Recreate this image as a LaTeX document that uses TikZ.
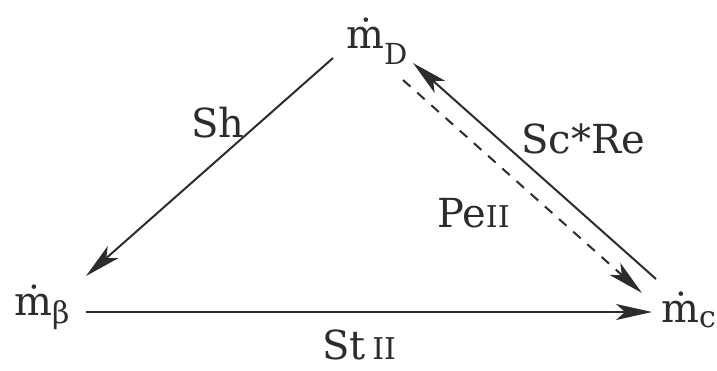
\documentclass[tikz,border=0pt]{standalone}
\usepackage{fontspec}
\setmainfont{DejaVu Serif}
\usetikzlibrary{arrows.meta}
\definecolor{ink}{HTML}{2C2C2C}
\newcommand{\lowsub}[3]{\raisebox{-#1pt}{\fontsize{#2}{#2}\selectfont #3}}
\newcommand{\romsub}[1]{{\fontsize{30}{30}\selectfont #1}}
\tikzset{
  lbl/.style={anchor=base west, inner sep=0pt, text=ink, font=\fontsize{40}{40}\selectfont},
  conn/.style={draw=ink, line width=2pt, -{Stealth[length=36pt, width=16pt, inset=9pt]}},
  dashconn/.style={conn, dash pattern=on 10pt off 9pt},
}
\begin{document}
\begin{tikzpicture}[x=1pt, y=-1pt]
\useasboundingbox (0,0) rectangle (717,370);
\node[lbl] (mD) at (346,48) {ṁ\lowsub{16}{29}{D}};
\node[lbl] (mB) at (14,315) {ṁ\lowsub{8}{30}{β}};
\node[lbl] (mC) at (661,322) {ṁ\lowsub{5}{30}{c}};
\coordinate (shs) at (333,58);
\coordinate (she) at (86,276);
\coordinate (sts) at (86,312);
\coordinate (ste) at (652,312);
\coordinate (scs) at (656,279);
\coordinate (sce) at (413,63);
\coordinate (pes) at (403,80);
\coordinate (pee) at (642,293);
\draw[conn] (shs) -- (she);
\draw[conn] (sts) -- (ste);
\draw[conn] (scs) -- (sce);
\draw[dashconn] (pes) -- (pee);
\node[lbl] (sh) at (191,137) {Sh};
\node[lbl] (scre) at (521,153) {Sc*Re};
\node[lbl] (pe) at (437,227) {Pe\romsub{II}};
\node[lbl] (st) at (322,359) {St\,\romsub{II}};
\end{tikzpicture}
\end{document}
